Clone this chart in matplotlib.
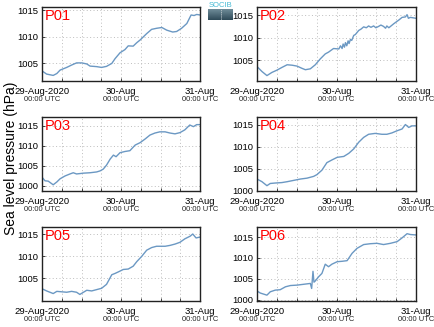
import numpy as np
import matplotlib
matplotlib.use("Agg")
import matplotlib.pyplot as plt
import matplotlib.transforms as mtransforms

plt.rcParams['font.family'] = ['Liberation Sans', 'DejaVu Sans']

# Sea level pressure (hPa) at six stations, hours since 29-Aug-2020 00:00 UTC
p01_hours = [0, 1.4, 3.4, 4.5, 5.5, 7.5, 9.0, 10.5, 12.1, 13.6, 14.6, 16.6, 18.1, 19.6, 21.2, 22.2,
             23.7, 25.2, 26.2, 27.7, 28.8, 29.8, 31.8, 33.3, 34.8, 36.4, 37.9, 39.7, 40.9, 42.4,
             44.0, 45.3, 46.2, 47.0, 48]
p01_slp = [1003.6, 1003.0, 1002.75, 1003.1, 1003.75, 1004.25, 1004.7, 1005.1, 1005.1, 1004.9,
           1004.5, 1004.4, 1004.25, 1004.45, 1005.0, 1005.9, 1007.0, 1007.6, 1008.3, 1008.25,
           1008.9, 1009.4, 1010.6, 1011.4, 1011.6, 1011.75, 1011.25, 1010.9, 1011.0, 1011.6,
           1012.5, 1014.1, 1014.0, 1014.2, 1014.1]

p02_hours = [0, 1.5, 3.0, 4.5, 6.0, 7.5, 9.1, 10.6, 12.1, 13.6, 14.6, 16.1, 17.6, 19.1, 20.6, 21.6,
             23.1, 24.7, 25.2, 25.7, 26.0, 26.4, 26.7, 27.1, 27.5, 27.8, 28.2, 28.6, 29.2, 29.7,
             30.7, 31.4, 32.2, 33.0, 33.7, 34.4, 35.2, 35.9, 36.7, 37.4, 38.2, 38.8, 39.2, 39.8,
             40.3, 41.3, 42.8, 43.8, 44.8, 45.3, 45.7, 46.3, 48]
p02_slp = [1003.6, 1002.5, 1001.6, 1002.3, 1002.8, 1003.4, 1004.0, 1003.9, 1003.7, 1003.2,
           1002.9, 1003.1, 1004.0, 1005.3, 1006.4, 1006.8, 1007.6, 1007.5, 1008.2, 1007.6,
           1008.6, 1007.9, 1008.9, 1008.2, 1009.3, 1008.7, 1009.6, 1009.4, 1010.5, 1010.7,
           1011.6, 1011.9, 1012.4, 1012.2, 1012.6, 1012.3, 1012.6, 1012.2, 1012.5, 1012.8,
           1012.5, 1012.1, 1012.6, 1012.2, 1012.5, 1013.1, 1013.9, 1014.5, 1014.6, 1015.1,
           1014.3, 1014.5, 1014.3]

p03_hours = [0, 0.9, 1.9, 3.4, 4.5, 5.5, 7.0, 8.5, 9.5, 10.5, 12.6, 14.6, 16.6, 17.6, 18.6, 19.6,
             20.7, 21.7, 22.5, 23.7, 25.2, 26.7, 28.3, 29.8, 31.3, 32.8, 34.3, 35.8, 37.4, 38.9,
             40.4, 41.9, 43.4, 44.9, 46.0, 47.0, 48]
p03_slp = [1002.2, 1001.3, 1001.2, 1000.3, 1001.0, 1001.8, 1002.5, 1003.0, 1003.3, 1003.0,
           1003.2, 1003.3, 1003.5, 1003.75, 1004.2, 1005.2, 1006.7, 1007.7, 1007.3, 1008.3,
           1008.6, 1008.8, 1010.2, 1010.8, 1011.7, 1012.7, 1013.2, 1013.5, 1013.5, 1013.2,
           1013.0, 1013.3, 1014.0, 1015.2, 1014.8, 1015.3, 1015.3]

p04_hours = [0, 1.5, 3.0, 4.0, 5.5, 7.5, 9.1, 11.1, 13.1, 15.1, 17.1, 18.1, 19.6, 21.1, 22.6, 24.2,
             26.2, 27.7, 29.2, 30.7, 32.2, 33.7, 35.7, 37.7, 39.2, 40.7, 42.3, 43.8, 44.8, 45.8,
             46.8, 48]
p04_slp = [1002.7, 1002.1, 1001.2, 1001.7, 1001.8, 1001.9, 1002.1, 1002.4, 1002.7, 1002.9,
           1003.3, 1003.7, 1004.7, 1006.4, 1007.0, 1007.6, 1007.8, 1008.5, 1009.5, 1011.0,
           1012.1, 1012.8, 1013.0, 1012.8, 1012.8, 1013.1, 1013.6, 1014.0, 1015.0, 1014.35,
           1014.7, 1014.7]

p05_hours = [0, 1.4, 3.4, 4.5, 6.0, 7.5, 9.0, 10.5, 11.5, 12.6, 13.6, 15.1, 16.6, 18.1, 19.6, 21.2,
             22.2, 23.2, 24.7, 26.2, 27.7, 28.8, 30.3, 31.8, 33.3, 34.8, 37.4, 38.9, 40.4, 41.9,
             43.4, 45.0, 45.8, 46.8, 48]
p05_slp = [1002.6, 1002.1, 1001.5, 1002.0, 1001.9, 1001.8, 1002.0, 1001.8, 1001.3, 1001.8,
           1002.25, 1002.1, 1002.4, 1002.7, 1003.6, 1005.8, 1006.1, 1006.45, 1007.0, 1007.1,
           1007.75, 1008.8, 1010.0, 1011.4, 1012.0, 1012.3, 1012.3, 1012.5, 1012.8, 1013.2,
           1014.0, 1014.6, 1015.1, 1014.2, 1014.4]

p06_hours = [0, 1.0, 3.0, 4.0, 5.5, 7.0, 8.6, 10.1, 12.1, 14.1, 16.1, 16.5, 16.9, 17.2, 17.6, 18.6,
             19.6, 20.6, 21.6, 22.6, 24.2, 25.7, 27.2, 28.7, 30.2, 32.2, 34.2, 36.2, 38.2, 40.3,
             42.3, 43.8, 45.3, 46.3, 48]
p06_slp = [1002.1, 1001.6, 1001.1, 1001.9, 1002.3, 1002.4, 1003.1, 1003.4, 1003.5, 1003.7,
           1003.9, 1002.7, 1006.8, 1004.2, 1004.5, 1005.5, 1006.3, 1008.5, 1007.9, 1008.5,
           1009.1, 1009.2, 1009.35, 1011.1, 1012.3, 1013.2, 1013.4, 1013.5, 1013.2, 1013.5,
           1013.9, 1014.8, 1015.8, 1015.6, 1015.5]

stations = ["P01", "P02", "P03", "P04", "P05", "P06"]
hours = [p01_hours, p02_hours, p03_hours, p04_hours, p05_hours, p06_hours]
values = [p01_slp, p02_slp, p03_slp, p04_slp, p05_slp, p06_slp]
y_limits = [(1001.7, 1015.6), (1000.4, 1016.8), (998.75, 1017.2),
            (1000.0, 1016.7), (999.8, 1016.7), (999.7, 1017.4)]
y_ticks = [[1005, 1010, 1015], [1005, 1010, 1015], [1000, 1005, 1010, 1015],
           [1000, 1005, 1010, 1015], [1005, 1010, 1015], [1000, 1005, 1010, 1015]]

date_ticks = [0, 24, 48]
date_labels = ["29-Aug-2020", "30-Aug", "31-Aug"]
time_label = "00:00 UTC"

W, H = 434, 327
fig = plt.figure(figsize=(W / 100, H / 100), dpi=100)

col_left = [42, 257]
col_width = [158, 159]
row_top = [7, 117, 227]
ax_h = 74

line_color = "#6b98c3"

for i, name in enumerate(stations):
    r, c = divmod(i, 2)
    x0 = col_left[c] / W
    y0 = 1 - (row_top[r] + ax_h) / H
    ax = fig.add_axes([x0, y0, col_width[c] / W, ax_h / H])
    ax.plot(hours[i], values[i], color=line_color, lw=1.0)
    ax.set_xlim(0, 48)
    ax.set_ylim(*y_limits[i])
    ax.set_yticks(y_ticks[i])
    ax.set_yticklabels([str(t) for t in y_ticks[i]], fontsize=6.8)
    ax.set_xticks(date_ticks)
    ax.set_xticklabels(date_labels, fontsize=6.8)
    ax.set_xticks(np.arange(0, 49, 6), minor=True)
    ax.tick_params(axis='both', which='both', direction='in', length=2.5, width=0.6,
                   pad=2.5, color='#222222')
    ax.tick_params(axis='x', which='major', pad=4)
    ax.grid(True, which='both', axis='x', linestyle=(0, (1, 2.5)), color='#bdbdbd', lw=0.7)
    ax.grid(True, which='major', axis='y', linestyle=(0, (1, 2.5)), color='#bdbdbd', lw=0.7)
    for s in ax.spines.values():
        s.set_linewidth(1.0)
        s.set_color('#222222')
    ax.text(0.02, 0.97, name, transform=ax.transAxes, color='red', fontsize=10.5,
            ha='left', va='top')
    trans = mtransforms.blended_transform_factory(ax.transData, ax.transAxes)
    for t in date_ticks:
        ax.text(t, -0.245, time_label, transform=trans, fontsize=5.4, ha='center',
                va='center', color='#222222')

fig.text(0.025, 0.515, "Sea level pressure (hPa)", rotation=90, fontsize=10,
         ha='center', va='center')

# SOCIB logo: small wordmark over a shaded block
logo_ax = fig.add_axes([208 / W, 1 - 20 / H, 25 / W, 11 / H])
grad = np.linspace(0, 1, 32).reshape(-1, 1)
logo_ax.imshow(grad, aspect='auto', cmap=matplotlib.colors.LinearSegmentedColormap.from_list(
    'logo', ['#6f8c99', '#2e4a58']), extent=(0, 1, 0, 1))
logo_ax.plot([0.5, 0.5], [0.05, 0.95], color='white', lw=0.6, linestyle=(0, (1, 1.5)))
logo_ax.set_xlim(0, 1)
logo_ax.set_ylim(0, 1)
logo_ax.axis('off')
fig.text(220.5 / W, 1 - 5.5 / H, "SOCIB", color='#45b9d3', fontsize=5.5, ha='center',
         va='center')

fig.savefig("out.png", dpi=100)
